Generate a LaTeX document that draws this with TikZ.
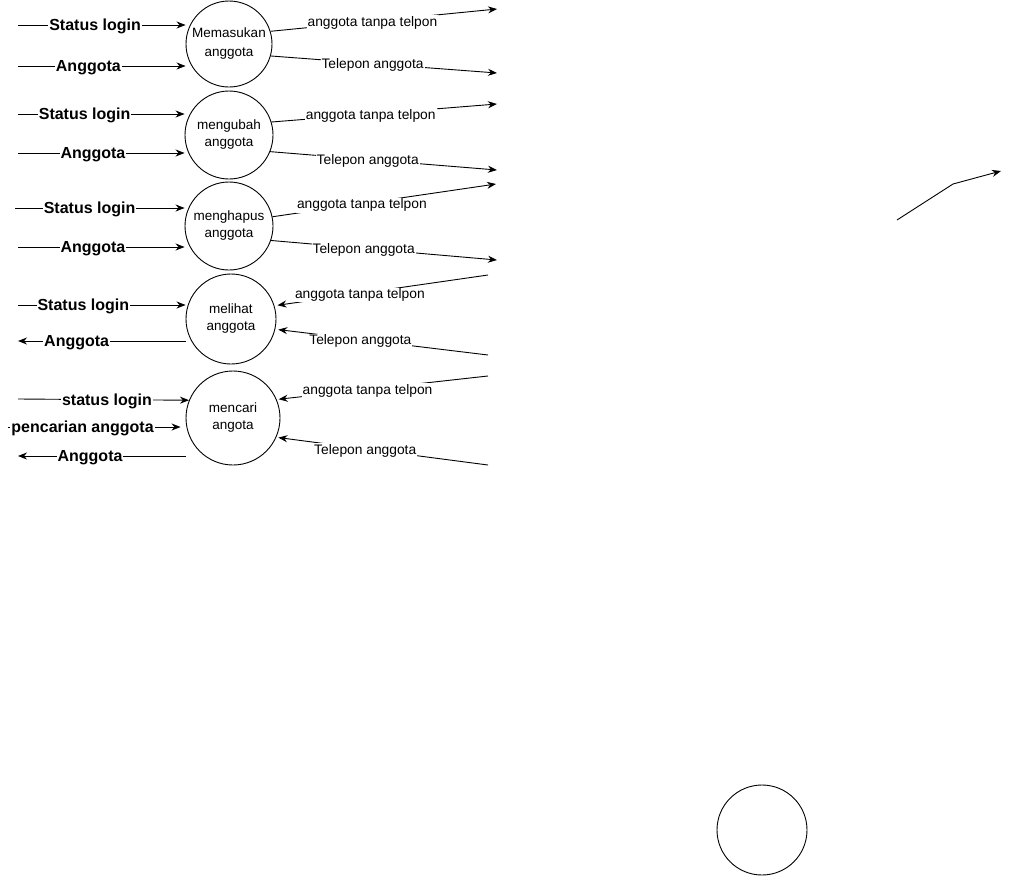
\documentclass[tikz,border=0pt]{standalone}
\usepackage{fontspec}
\setmainfont{Liberation Sans}
\usetikzlibrary{arrows.meta,positioning}
\tikzset{
  proses/.style = {draw, circle, inner sep=0pt, align=center,
                   font=\fontsize{13.5}{17}\selectfont},
  masuk/.style  = {fill=white, inner sep=1pt, yshift=-1.5pt,
                   font=\bfseries\fontsize{16}{19}\selectfont},
  keluar/.style = {fill=white, inner sep=1pt, yshift=-1.5pt,
                   font=\fontsize{13.8}{16}\selectfont}
}

\begin{document}
\begin{tikzpicture}[x=1pt, y=-1pt, line width=0.9pt,
  >={Stealth[length=9pt,width=7pt]}]
\useasboundingbox (0,0) rectangle (1010,876);

% the processes
\node[proses, minimum size=86pt] (c1) at (229,44)  {Memasukan\\[2pt]anggota};
\node[proses, minimum size=88pt] (c2) at (229,135) {mengubah\\anggota};
\node[proses, minimum size=88pt] (c3) at (229,226) {menghapus\\anggota};
\node[proses, minimum size=90pt] (c4) at (231,319) {melihat\\anggota};
\node[proses, minimum size=94pt] (c5) at (233,418) {mencari\\angota};
\node[proses, minimum size=90pt] (c6) at (762,830) {};

% free ends on the left
\coordinate (s1) at (18,25);  \coordinate (a1) at (18,66);
\coordinate (s2) at (18,114); \coordinate (a2) at (18,153);
\coordinate (s3) at (15,208); \coordinate (a3) at (18,247);
\coordinate (s4) at (18,305); \coordinate (a4) at (18,341);
\coordinate (s5) at (18,399); \coordinate (u5) at (8,427); \coordinate (a5) at (18,456);

% flows into (and out of) the processes, left side
\draw[->] (s1) -- node[masuk, pos=0.46] {Status login} (s1 -| c1.west);
\draw[->] (a1) -- node[masuk, pos=0.42] {Anggota} (a1 -| c1.west);
\draw[->] (s2) -- node[masuk, pos=0.40] {Status login} (s2 -| c2.west);
\draw[->] (a2) -- node[masuk, pos=0.45] {Anggota} (a2 -| c2.west);
\draw[->] (s3) -- node[masuk, pos=0.44] {Status login} (s3 -| c3.west);
\draw[->] (a3) -- node[masuk, pos=0.45] {Anggota} (a3 -| c3.west);
\draw[->] (s4) -- node[masuk, pos=0.39] {Status login} (s4 -| c4.west);
\draw[->] (a4 -| c4.west) -- node[masuk, pos=0.65] {Anggota} (a4);
\draw[->] (s5) -- node[masuk, pos=0.52] {status login} (c5.158);
\draw[->, shorten >=5pt] (u5) -- node[masuk, pos=0.42] {pencarian anggota} (u5 -| c5.west);
\draw[->] (a5 -| c5.west) -- node[masuk, pos=0.57] {Anggota} (a5);

% free ends on the right
\coordinate (t1) at (497,9);   \coordinate (e1) at (497,73);
\coordinate (t2) at (497,104); \coordinate (e2) at (497,170);
\coordinate (t3) at (496,184); \coordinate (e3) at (497,260);
\coordinate (t4) at (488,275); \coordinate (e4) at (488,355);
\coordinate (t5) at (488,376); \coordinate (e5) at (488,465);

% flows on the right side
\draw[->] (c1.17)  -- node[keluar, pos=0.45] {anggota tanpa telpon} (t1);
\draw[->] (c1.-16) -- node[keluar, pos=0.45] {Telepon anggota} (e1);
\draw[->] (c2.17)  -- node[keluar, pos=0.44] {anggota tanpa telpon} (t2);
\draw[->] (c2.-22) -- node[keluar, pos=0.43] {Telepon anggota} (e2);
\draw[->] (c3.12)  -- node[keluar, pos=0.40] {anggota tanpa telpon} (t3);
\draw[->] (c3.-19) -- node[keluar, pos=0.41] {Telepon anggota} (e3);
\draw[->, shorten >=3pt] (t4) -- node[keluar, pos=0.60] {anggota tanpa telpon} (c4.17);
\draw[->, shorten >=3pt] (e4) -- node[keluar, pos=0.60] {Telepon anggota} (c4.-13);
\draw[->, shorten >=2pt] (t5) -- node[keluar, pos=0.57] {anggota tanpa telpon} (c5.23);
\draw[->, shorten >=2pt] (e5) -- node[keluar, pos=0.58] {Telepon anggota} (c5.-24);

% loose arrow at the top right
\coordinate (p1) at (897,220);
\coordinate (p2) at (953,184);
\coordinate (p3) at (1001,171);
\draw[->] (p1) -- (p2) -- (p3);

\end{tikzpicture}
\end{document}
